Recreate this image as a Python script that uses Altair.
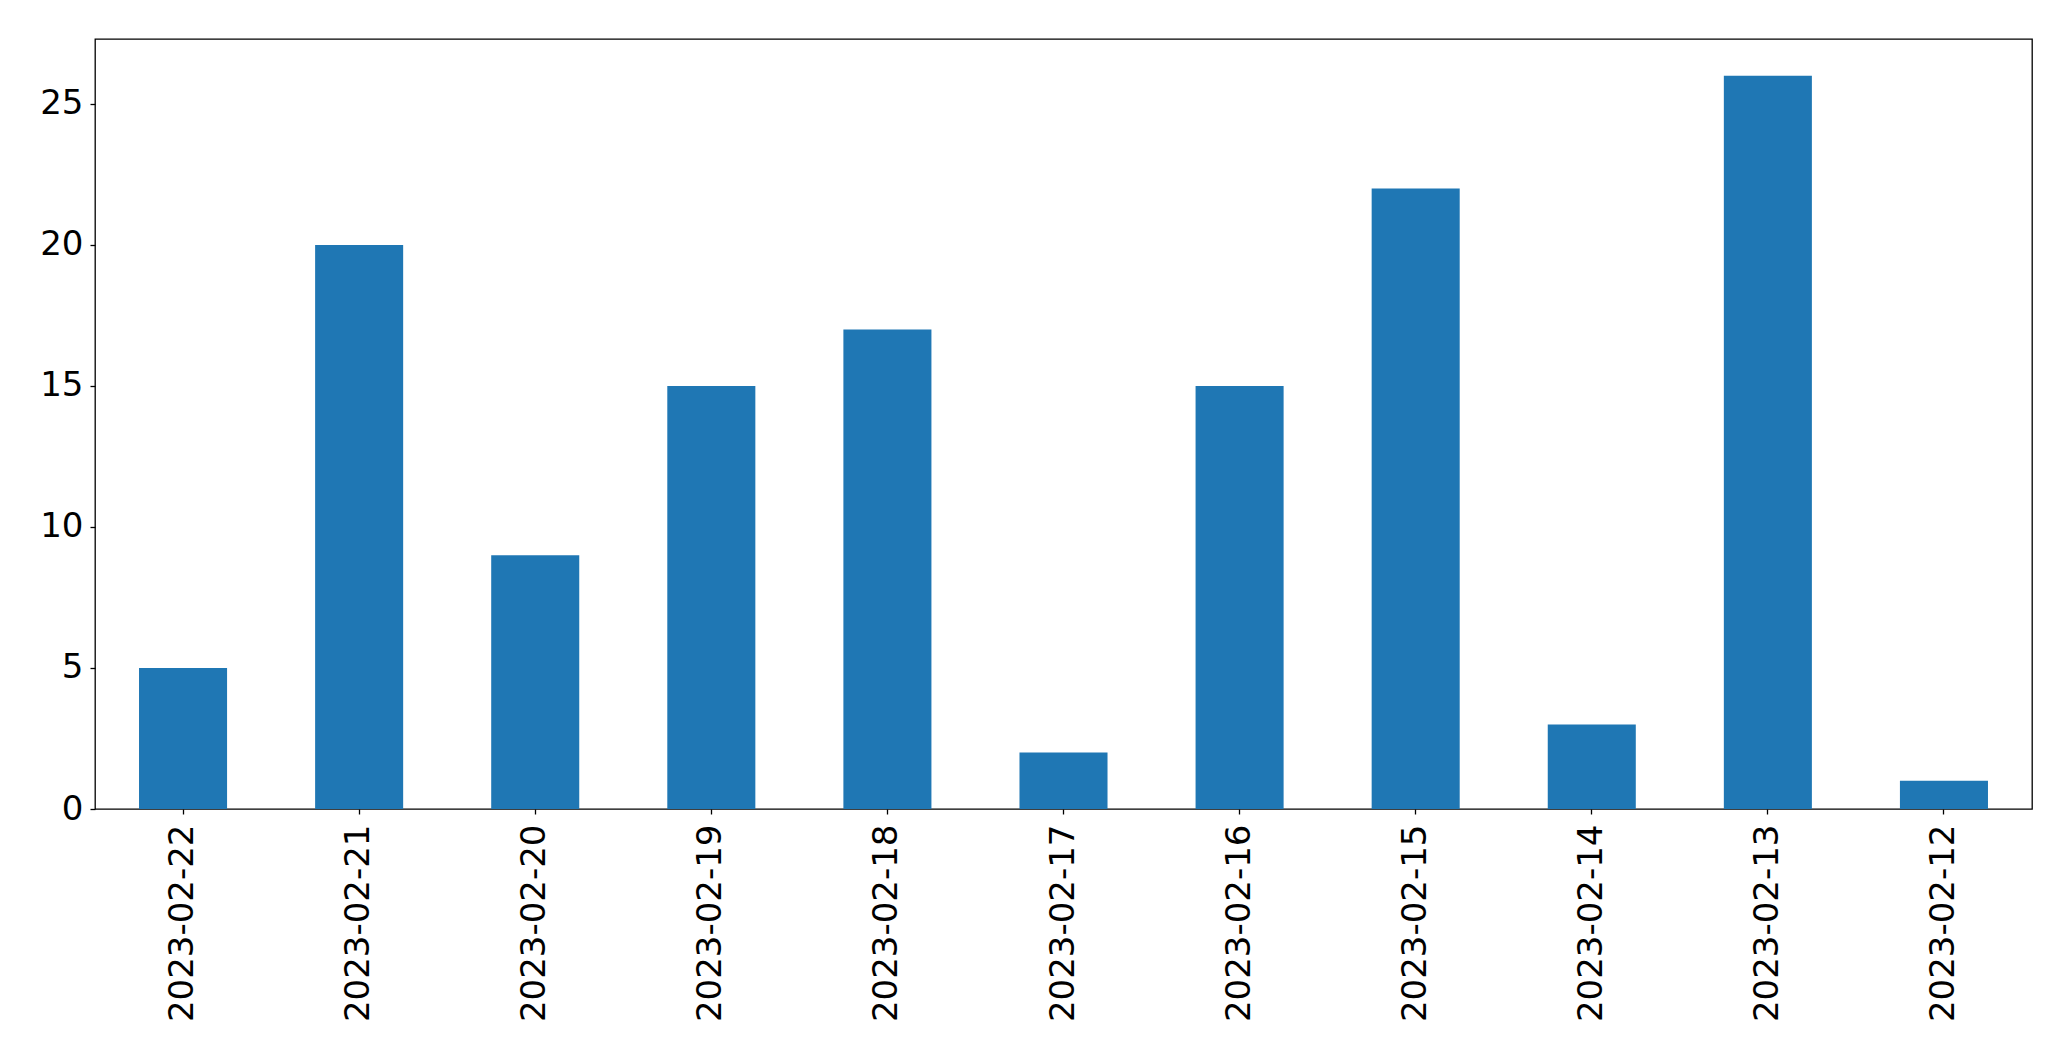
import altair as alt
import pandas as pd

dates = ["2023-02-22", "2023-02-21", "2023-02-20", "2023-02-19", "2023-02-18",
         "2023-02-17", "2023-02-16", "2023-02-15", "2023-02-14", "2023-02-13",
         "2023-02-12"]
counts = [5, 20, 9, 15, 17, 2, 15, 22, 3, 26, 1]

df = pd.DataFrame({"date": dates, "count": counts})

chart = alt.Chart(df).mark_bar(color="#1f77b4").encode(
    x=alt.X("date:N", sort=dates, title=None,
            scale=alt.Scale(paddingInner=0.5, paddingOuter=0.25),
            axis=alt.Axis(labelAngle=270, labelFontSize=34, labelFont="DejaVu Sans",
                          labelColor="black", tickColor="black", tickSize=5,
                          tickWidth=1.3, labelPadding=10, labelLimit=0,
                          domain=False, grid=False)),
    y=alt.Y("count:Q", title=None,
            scale=alt.Scale(domain=[0, 27.3], nice=False, zero=True),
            axis=alt.Axis(values=[0, 5, 10, 15, 20, 25], labelFontSize=34,
                          labelFont="DejaVu Sans", labelColor="black",
                          tickColor="black", tickSize=5, tickWidth=1.3,
                          labelPadding=7, domain=False, grid=False)),
).properties(
    width=1937, height=770,
    autosize=alt.AutoSizeParams(type="none"),
    padding={"left": 87, "top": 31, "right": 30, "bottom": 230},
).configure(
    background="white"
).configure_view(
    stroke="black", strokeWidth=1.3
)

chart.save("out.html", embed_options={"renderer": "svg", "actions": False})
